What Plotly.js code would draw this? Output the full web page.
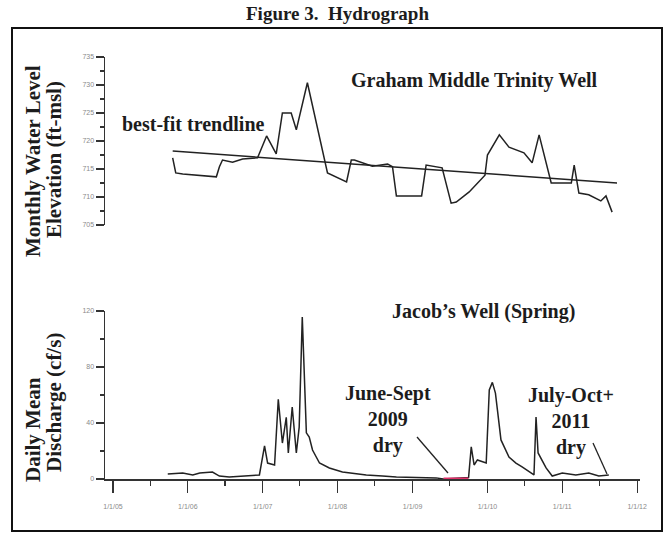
<!DOCTYPE html>
<html>
<head>
<meta charset="utf-8">
<script src="https://cdn.plot.ly/plotly-3.0.1.min.js"></script>
<style>html,body{margin:0;padding:0;background:#fff;}#chart{width:665px;height:536px;}</style>
</head>
<body>
<div id="chart"></div>
<script>
// ---- data ----
const wellDates = ['2005-10-19','2005-11-03','2005-12-07','2006-02-14','2006-05-20','2006-06-04','2006-06-19','2006-08-07','2006-09-25','2006-12-07','2007-01-20','2007-03-08','2007-04-07','2007-05-20','2007-06-14','2007-08-07','2007-10-29','2007-11-13','2008-02-14','2008-03-08','2008-03-23','2008-06-19','2008-09-01','2008-09-25','2008-10-14','2009-02-14','2009-03-08','2009-05-25','2009-07-08','2009-08-02','2009-10-04','2009-12-20','2010-01-01','2010-02-28','2010-04-16','2010-06-28','2010-08-07','2010-09-10','2010-11-08','2011-02-14','2011-02-28','2011-03-23','2011-05-10','2011-07-08','2011-08-02','2011-09-01'];
const wellLevels = [717.0,714.3,714.1,713.9,713.6,715.4,716.6,716.2,716.8,717.0,720.9,717.7,725.0,725.0,722.0,730.4,716.6,714.3,712.7,716.6,716.6,715.5,715.9,715.4,710.2,710.2,715.7,715.2,708.9,709.1,710.9,713.9,717.5,721.1,718.9,717.9,716.1,721.1,712.5,712.5,715.7,710.7,710.4,709.3,710.2,707.3];

const trendDates = ['2005-10-19','2011-09-25'];
const trendLevels = [718.2, 712.5];

const springDates = ['2005-09-25','2005-12-07','2006-01-25','2006-02-28','2006-05-01','2006-06-04','2006-07-22','2006-12-16','2007-01-10','2007-01-25','2007-02-28','2007-03-18','2007-04-07','2007-04-26','2007-05-06','2007-05-25','2007-06-14','2007-06-28','2007-07-13','2007-08-02','2007-08-16','2007-09-01','2007-10-05','2007-11-22','2008-01-25','2008-05-20','2008-08-07','2008-10-14','2009-04-26','2009-05-31','2009-10-01','2009-10-14','2009-10-28','2009-11-13','2009-12-26','2010-01-10','2010-01-25','2010-01-30','2010-02-09','2010-02-19','2010-03-08','2010-04-16','2010-05-20','2010-06-19','2010-07-22','2010-08-16','2010-08-26','2010-09-05','2010-10-14','2010-11-13','2011-01-01','2011-03-08','2011-05-10','2011-06-28','2011-08-16'];
const springFlow = [3.6,4.3,2.9,4.3,5.0,2.1,1.4,2.9,23.6,11.4,10.0,57.0,25.7,44.0,18.6,51.4,18.6,37.0,115.7,33.0,30.0,20.7,11.4,7.9,5.0,2.9,2.1,1.4,0.8,0.0,1.0,22.9,10.0,13.6,11.4,63.6,69.0,65.7,61.4,49.0,27.9,15.7,11.4,8.6,5.0,2.9,44.3,18.6,7.9,2.1,4.3,2.9,4.3,2.1,2.9];

const dryDates = ['2009-06-01','2009-09-30'];
const dryFlow = [0, 0];

const xTickVals = ['2005-01-01','2006-01-01','2007-01-01','2008-01-01','2009-01-01','2010-01-01','2011-01-01','2012-01-01'];
const xTickText = ['1/1/05','1/1/06','1/1/07','1/1/08','1/1/09','1/1/10','1/1/11','1/1/12'];
const levelTicks = [705,710,715,720,725,730,735];
const flowTicks = [0,40,80,120];

// ---- layout helpers ----
const WIDTH = 665, HEIGHT = 536, L = 105, R = 25, T = 40, B = 40;
const PW = WIDTH - L - R, PH = HEIGHT - T - B;
const xp = px => (px - L) / PW;
const yp = py => (HEIGHT - B - py) / PH;

const FONT = '"Liberation Serif", "DejaVu Serif", serif';
const INK = '#1c1c1c';
const tickFont = {family: '"Liberation Sans", sans-serif', size: 7, color: '#8a8a8a'};

const lineStyle = {color: '#222', width: 1.5};

const traces = [
  {x: wellDates, y: wellLevels, xaxis: 'x', yaxis: 'y', mode: 'lines', line: lineStyle, hoverinfo: 'skip'},
  {x: trendDates, y: trendLevels, xaxis: 'x', yaxis: 'y', mode: 'lines', line: {color: '#222', width: 1.5}, hoverinfo: 'skip'},
  {x: springDates, y: springFlow, xaxis: 'x', yaxis: 'y2', mode: 'lines', line: lineStyle, hoverinfo: 'skip'},
  {x: dryDates, y: dryFlow, xaxis: 'x', yaxis: 'y2', mode: 'lines', line: {color: '#e2306a', width: 3}, hoverinfo: 'skip'}
];

function ann(text, x, y, size, extra) {
  return Object.assign({text: text, xref: 'paper', yref: 'paper', x: xp(x), y: yp(y),
    xanchor: 'center', yanchor: 'middle', showarrow: false,
    font: {family: FONT, size: size, color: INK, weight: 'bold'}}, extra || {});
}

const layout = {
  width: WIDTH, height: HEIGHT,
  margin: {l: L, r: R, t: T, b: B},
  paper_bgcolor: '#fff', plot_bgcolor: 'rgba(0,0,0,0)',
  showlegend: false,
  xaxis: {
    type: 'date', range: ['2004-11-23', '2012-01-15'], anchor: 'y2',
    showgrid: false, zeroline: false, showline: true, linecolor: '#333', linewidth: 1.5,
    tickmode: 'array', tickvals: xTickVals, ticktext: xTickText,
    ticks: 'outside', ticklen: 12, tickwidth: 1.2, tickcolor: '#333', tickfont: tickFont,
    ticklabelstandoff: 8,
    minor: {dtick: 'M6', tick0: '2005-01-01', ticks: 'outside', ticklen: 5, tickcolor: '#333', showgrid: false}
  },
  yaxis: {
    domain: [yp(225), yp(57)], range: [705, 735], anchor: 'x',
    showgrid: false, zeroline: false, showline: true, linecolor: '#333', linewidth: 1.5,
    tickmode: 'array', tickvals: levelTicks,
    ticks: 'outside', ticklen: 8, tickwidth: 1.2, tickcolor: '#333', tickfont: tickFont,
    minor: {dtick: 2.5, ticks: 'outside', ticklen: 4, tickcolor: '#333', showgrid: false}
  },
  yaxis2: {
    domain: [yp(479), yp(311)], range: [0, 120], anchor: 'x',
    showgrid: false, zeroline: false, showline: true, linecolor: '#333', linewidth: 1.5,
    tickmode: 'array', tickvals: flowTicks,
    ticks: 'outside', ticklen: 8, tickwidth: 1.2, tickcolor: '#333', tickfont: tickFont,
    minor: {dtick: 20, ticks: 'outside', ticklen: 4, tickcolor: '#333', showgrid: false}
  },
  shapes: [
    {type: 'rect', xref: 'paper', yref: 'paper', x0: xp(12), x1: xp(662), y0: yp(531), y1: yp(28),
     line: {color: '#111', width: 2}, fillcolor: 'rgba(0,0,0,0)'},
    {type: 'line', xref: 'paper', yref: 'paper', x0: xp(417), y0: yp(437), x1: xp(448), y1: yp(473),
     line: {color: '#222', width: 1.3}},
    {type: 'line', xref: 'paper', yref: 'paper', x0: xp(593), y0: yp(443), x1: xp(607), y1: yp(474),
     line: {color: '#222', width: 1.3}}
  ],
  annotations: [
    ann('Figure 3.  Hydrograph', 337, 14, 19),
    ann('best-fit trendline', 193, 124, 20),
    ann('Graham Middle Trinity Well', 474, 80, 20),
    ann('Jacob\u2019s Well (Spring)', 484, 311, 20),
    ann('June-Sept<br>2009<br>dry', 388, 419, 20),
    ann('July-Oct+<br>2011<br>dry', 571, 421, 20),
    ann('Monthly Water Level', 33, 161, 21, {textangle: -90}),
    ann('Elevation (ft-msl)', 54, 160, 21, {textangle: -90}),
    ann('Daily Mean', 33, 430, 21, {textangle: -90}),
    ann('Discharge (cf/s)', 54, 403, 21, {textangle: -90})
  ]
};

Plotly.newPlot('chart', traces, layout, {displayModeBar: false, staticPlot: true});
</script>
</body>
</html>
